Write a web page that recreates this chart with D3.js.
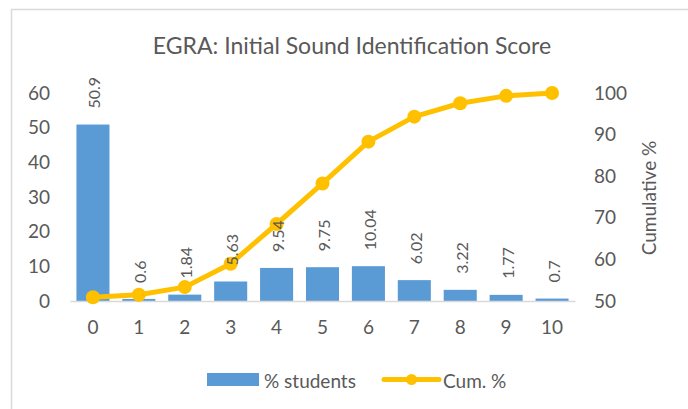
<!DOCTYPE html>
<html>
<head>
<meta charset="utf-8">
<script src="https://cdn.jsdelivr.net/npm/d3@7"></script>
<style>
  html, body { margin: 0; padding: 0; background: #fff; }
  svg { display: block; font-family: Lato, "Open Sans", sans-serif; }
</style>
</head>
<body>
<svg id="chart" width="688" height="409"></svg>
<script>
// ---- data ----
const categories = ["0", "1", "2", "3", "4", "5", "6", "7", "8", "9", "10"];
const pctStudents = [50.9, 0.6, 1.84, 5.63, 9.54, 9.75, 10.04, 6.02, 3.22, 1.77, 0.7];
const cumPct = [50.9, 51.5, 53.34, 58.97, 68.51, 78.26, 88.3, 94.32, 97.54, 99.31, 100];
const leftTicks = [0, 10, 20, 30, 40, 50, 60];
const rightTicks = [50, 60, 70, 80, 90, 100];
const title = "EGRA: Initial Sound Identification Score";
const rightAxisTitle = "Cumulative %";
const seriesNames = ["% students", "Cum. %"];

// ---- layout ----
const svg = d3.select("#chart");
const plot = { left: 70, right: 575, top: 93, bottom: 301 };
const barColor = "#5B9BD5", lineColor = "#FFC000", textColor = "#595959", gridColor = "#D9D9D9";

// outer chart border
svg.append("rect")
  .attr("x", 11.5).attr("y", 9.5)
  .attr("width", 700).attr("height", 420)
  .attr("fill", "#fff").attr("stroke", gridColor).attr("stroke-width", 1.5);

const x = d3.scaleBand().domain(categories).range([plot.left, plot.right]).paddingInner(0.28).paddingOuter(0.14);
const yL = d3.scaleLinear().domain([0, 60]).range([plot.bottom, plot.top]);
const yR = d3.scaleLinear().domain([50, 100]).range([plot.bottom, plot.top]);

// title
svg.append("text")
  .attr("x", 352).attr("y", 54)
  .attr("text-anchor", "middle")
  .attr("fill", textColor)
  .attr("font-size", 23)
  .text(title);

// left axis
const gL = svg.append("g").attr("transform", `translate(${plot.left},0)`)
  .call(d3.axisLeft(yL).tickValues(leftTicks).tickSize(0).tickPadding(20));
gL.select(".domain").remove();
gL.selectAll("text").attr("fill", textColor).attr("font-size", 19).attr("font-family", "Lato, sans-serif");

// right axis
const gR = svg.append("g").attr("transform", `translate(${plot.right},0)`)
  .call(d3.axisRight(yR).tickValues(rightTicks).tickSize(0).tickPadding(19));
gR.select(".domain").remove();
gR.selectAll("text").attr("fill", textColor).attr("font-size", 19).attr("font-family", "Lato, sans-serif");

// right axis title
svg.append("text")
  .attr("transform", `translate(648,198) rotate(-90)`)
  .attr("text-anchor", "middle")
  .attr("dominant-baseline", "central")
  .attr("fill", textColor)
  .attr("font-size", 19)
  .text(rightAxisTitle);

// bars
svg.append("g").selectAll("rect")
  .data(pctStudents)
  .join("rect")
  .attr("x", (d, i) => x(categories[i]))
  .attr("y", d => yL(d))
  .attr("width", x.bandwidth())
  .attr("height", d => yL(0) - yL(d))
  .attr("fill", barColor);

// x axis
const gX = svg.append("g").attr("transform", `translate(0,${plot.bottom})`)
  .call(d3.axisBottom(x).tickSize(0).tickPadding(20));
gX.select(".domain").attr("stroke", gridColor).attr("stroke-width", 1.5);
gX.selectAll("text").attr("fill", textColor).attr("font-size", 19).attr("font-family", "Lato, sans-serif");

// cumulative line
const cx = (i) => x(categories[i]) + x.bandwidth() / 2;
const line = d3.line().x((d, i) => cx(i)).y(d => yR(d));
svg.append("path")
  .datum(cumPct)
  .attr("d", line)
  .attr("fill", "none")
  .attr("stroke", lineColor)
  .attr("stroke-width", 5)
  .attr("stroke-linejoin", "round");
svg.append("g").selectAll("circle")
  .data(cumPct)
  .join("circle")
  .attr("cx", (d, i) => cx(i))
  .attr("cy", d => yR(d))
  .attr("r", 7)
  .attr("fill", lineColor);

// data labels (drawn above the line, as in the reference)
svg.append("g").selectAll("text")
  .data(pctStudents)
  .join("text")
  .attr("transform", (d, i) => `translate(${x(categories[i]) + x.bandwidth() / 2 + 1},${yL(d) - 16}) rotate(-90)`)
  .attr("text-anchor", "start")
  .attr("dominant-baseline", "central")
  .attr("fill", textColor)
  .attr("font-size", 16)
  .text(d => d);

// legend
const leg = svg.append("g");
leg.append("rect").attr("x", 207).attr("y", 373).attr("width", 52).attr("height", 13).attr("fill", barColor);
leg.append("text").attr("x", 264).attr("y", 380).attr("dominant-baseline", "central")
  .attr("fill", textColor).attr("font-size", 19).text(seriesNames[0]);
leg.append("line").attr("x1", 384).attr("x2", 439).attr("y1", 379.5).attr("y2", 379.5)
  .attr("stroke", lineColor).attr("stroke-width", 5).attr("stroke-linecap", "round");
leg.append("circle").attr("cx", 411.5).attr("cy", 379.5).attr("r", 5.5).attr("fill", lineColor);
leg.append("text").attr("x", 443).attr("y", 380).attr("dominant-baseline", "central")
  .attr("fill", textColor).attr("font-size", 19).text(seriesNames[1]);
</script>
</body>
</html>
